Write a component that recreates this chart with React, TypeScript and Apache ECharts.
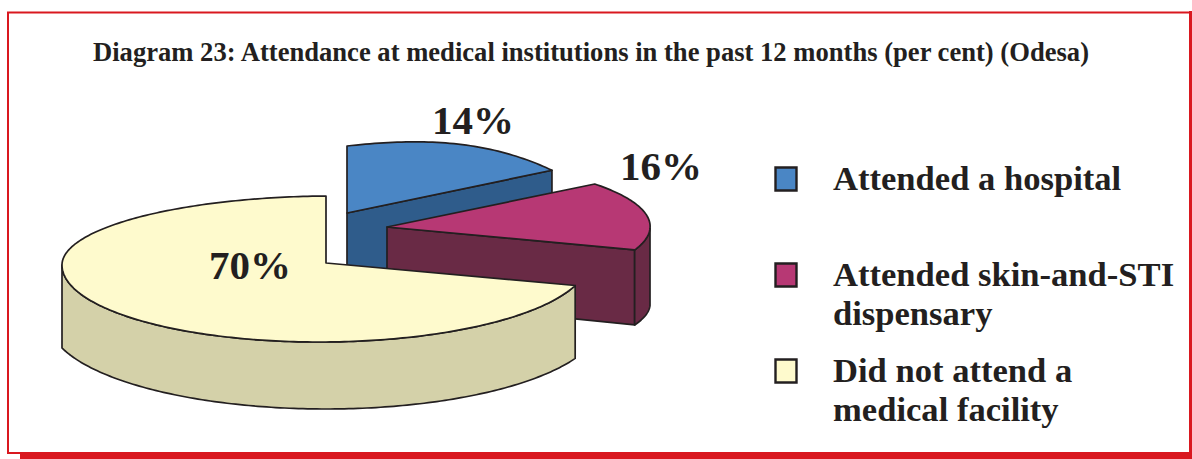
import React, { useEffect, useRef } from "react";
import * as echarts from "echarts";

const titleText = "Diagram 23: Attendance at medical institutions in the past 12 months (per cent) (Odesa)";
const categories = ["Attended a hospital", "Attended skin-and-STI\ndispensary", "Did not attend a\nmedical facility"];
const shares = [14, 16, 70];

const topColors = ["#4a86c5", "#b73874", "#fefacd"];
const sideColors = ["#2f5c8b", "#692a45", "#d4d1a9"];
const inkColor = "#231f20";
const frameColor = "#d9181f";
const serif = "'Liberation Serif', 'Times New Roman', serif";

// Projection of each exploded slice (layout only; angles come from shares)
const sliceLayout: any[] = [
  { ax: 347, ay: 213, rxL: 266, rxR: 266, skewX: 0, ryB: 67, ryF: 67, tilt: 0, bow: -8, d0: 75, dS: 0, dC: 0, apexDepth: 75, lx: 473, ly: 120 },
  { ax: 387, ay: 227, rxL: 263, rxR: 263, skewX: 8, ryB: 69.4, ryF: 69.4, tilt: 1.6, bow: 0, d0: 77, dS: 0, dC: 6.5, apexDepth: 73, lx: 661, ly: 166 },
  { ax: 326, ay: 263, rxL: 264, rxR: 262, skewX: 0, ryB: 67, ryF: 79, tilt: -2, bow: 0, d0: 0, dS: 0, dC: 0, apexDepth: 75, lx: 250, ly: 265, floor: { R: 1.05, cy: 58.2, ry: 87.8 } },
];
const legendLayout = { iconX: 775.5, iconW: 21, iconH: 23, iconY: [167.5, 263.5, 359.5], textX: 833, firstBaseline: [189, 285, 381], lineStep: 39.5, baselineDrop: 29 };

export default function App() {
  const ref = useRef<HTMLDivElement>(null);
  useEffect(() => {
    const chart = echarts.init(ref.current!, null, { renderer: "svg" });
    const total = shares.reduce((a, b) => a + b, 0);
    const starts = shares.map((_, i) => shares.slice(0, i).reduce((a, b) => a + b, 0));

    const renderItem = (params: any, api: any) => {
      const i = params.dataIndex;
      const L = sliceLayout[i];
      const t0 = (api.value(0) / total) * Math.PI * 2;
      const t1 = t0 + (api.value(1) / total) * Math.PI * 2;
      const top = (t: number): number[] => {
        const s = Math.sin(t), c = Math.cos(t);
        const u = (t - t0) / (t1 - t0);
        return [
          L.ax + (s >= 0 ? L.rxR : L.rxL) * s + L.skewX * c,
          L.ay - (c >= 0 ? L.ryB : L.ryF) * c + L.tilt * s + L.bow * Math.sin(Math.PI * u),
        ];
      };
      const bottom = (t: number): number[] => {
        const p = top(t);
        if (L.floor) {
          const q = Math.sin(t) / L.floor.R;
          return [p[0], L.ay + L.floor.cy + L.floor.ry * Math.sqrt(1 - q * q)];
        }
        return [p[0], p[1] + L.d0 + L.dS * Math.sin(t) + L.dC * Math.cos(t)];
      };
      const arc = (a: number, b: number, f: (t: number) => number[]) => {
        const n = Math.max(2, Math.ceil((Math.abs(b - a) * 180) / Math.PI));
        const out: number[][] = [];
        for (let k = 0; k <= n; k++) out.push(f(a + ((b - a) * k) / n));
        return out;
      };
      const edge = { stroke: inkColor, lineWidth: 1.7, lineJoin: "round" };
      const children: any[] = [];
      // radial face looking at the viewer
      if (t1 < Math.PI) {
        const e0 = top(t1), e1 = bottom(t1);
        children.push({
          type: "polygon",
          shape: { points: [[L.ax, L.ay], e0, e1, [L.ax, L.ay + L.apexDepth]] },
          style: { fill: sideColors[i], ...edge },
        });
      }
      // outer wall, front half only
      const wa = Math.max(t0, Math.PI / 2);
      const wb = Math.min(t1, (Math.PI * 3) / 2);
      if (wb > wa) {
        children.push({
          type: "polygon",
          shape: { points: [...arc(wa, wb, top), ...arc(wb, wa, bottom)] },
          style: { fill: sideColors[i], ...edge },
        });
      }
      children.push({
        type: "polygon",
        shape: { points: [[L.ax, L.ay], ...arc(t0, t1, top)] },
        style: { fill: topColors[i], ...edge },
      });
      children.push({
        type: "text",
        x: L.lx,
        y: L.ly,
        style: {
          text: `${api.value(1)}%`,
          fontFamily: serif,
          fontWeight: "bold",
          fontSize: 41,
          fill: inkColor,
          align: "center",
          verticalAlign: "middle",
        },
      });
      return { type: "group", children };
    };

    const frame: any[] = [
      { type: "rect", shape: { x: 8, y: 12.5, width: 1182, height: 440.5 }, style: { fill: "none", stroke: frameColor, lineWidth: 2 } },
      { type: "rect", shape: { x: 20, y: 452, width: 1172, height: 7 }, style: { fill: frameColor } },
      { type: "rect", shape: { x: 1189, y: 11, width: 3, height: 448 }, style: { fill: frameColor } },
    ];
    const legend: any[] = [];
    categories.forEach((name, i) => {
      legend.push({
        type: "rect",
        shape: { x: legendLayout.iconX, y: legendLayout.iconY[i], width: legendLayout.iconW, height: legendLayout.iconH },
        style: { fill: topColors[i], stroke: inkColor, lineWidth: 2.4 },
      });
      name.split("\n").forEach((line, k) => {
        legend.push({
          type: "text",
          x: legendLayout.textX,
          y: legendLayout.firstBaseline[i] + k * legendLayout.lineStep - legendLayout.baselineDrop,
          style: {
            text: line,
            fontFamily: serif,
            fontWeight: "bold",
            fontSize: 34.6,
            fill: inkColor,
            align: "left",
            verticalAlign: "top",
          },
        });
      });
    });

    chart.setOption({
      animation: false,
      backgroundColor: "#ffffff",
      title: {
        text: titleText,
        left: 88,
        top: 33.5,
        textStyle: { fontFamily: serif, fontWeight: "bold", fontSize: 26.6, color: inkColor },
      },
      graphic: { elements: [...frame, ...legend] },
      series: [
        {
          type: "custom",
          name: "Attendance",
          coordinateSystem: "none",
          clip: false,
          renderItem,
          data: shares.map((v, i) => ({ name: categories[i], value: [starts[i], v] })),
        },
      ],
    });
    return () => chart.dispose();
  }, []);
  return <div ref={ref} style={{ position: "absolute", left: 0, top: 0, width: 1192, height: 459 }} />;
}
